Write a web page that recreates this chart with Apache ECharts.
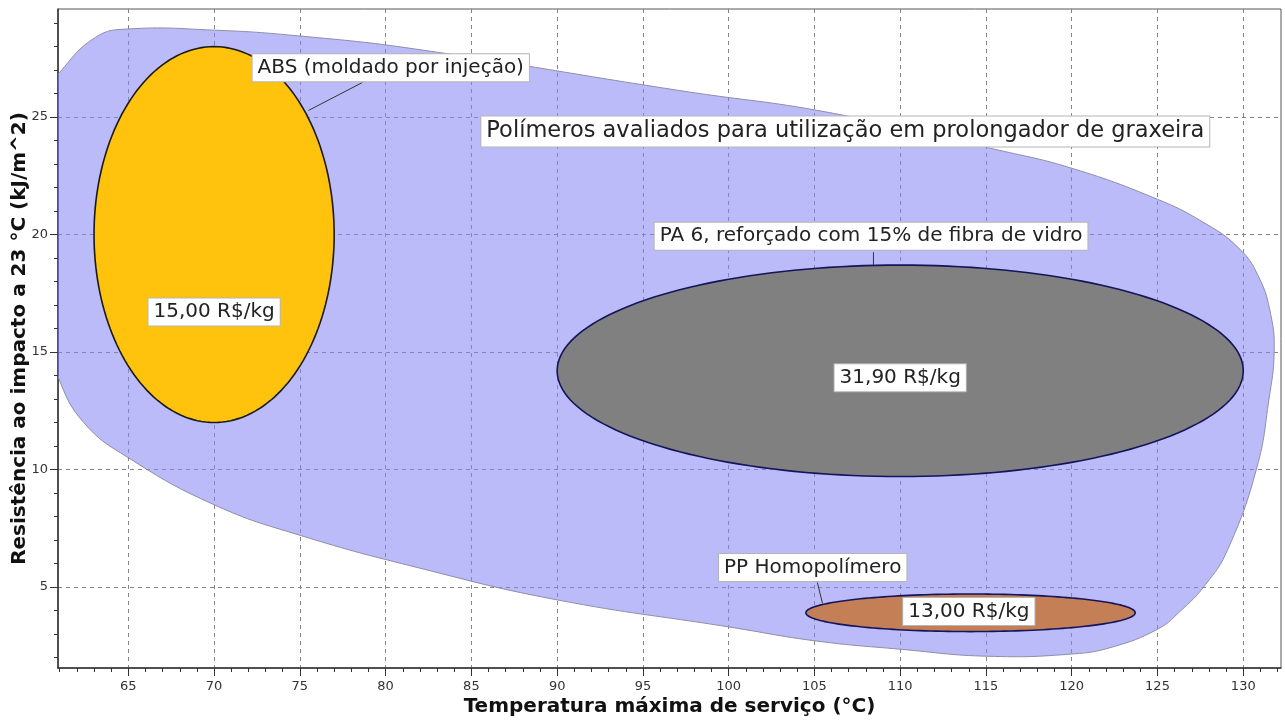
<!DOCTYPE html>
<html>
<head>
<meta charset="utf-8">
<title>Polímeros avaliados</title>
<script src="https://cdn.jsdelivr.net/npm/echarts@6/dist/echarts.min.js"></script>
<style>
  html, body { margin: 0; padding: 0; background: #ffffff; }
  #chart { width: 1285px; height: 725px; }
</style>
</head>
<body>
<div id="chart"></div>
<script>
// Tick values for both axes
const xTicks = [65, 70, 75, 80, 85, 90, 95, 100, 105, 110, 115, 120, 125, 130];
const yTicks = [5, 10, 15, 20, 25];
const xMinorTicks = [61, 62, 63, 64, 65, 66, 67, 68, 69, 70, 71, 72, 73, 74, 75, 76, 77, 78, 79, 80,
  81, 82, 83, 84, 85, 86, 87, 88, 89, 90, 91, 92, 93, 94, 95, 96, 97, 98, 99, 100,
  101, 102, 103, 104, 105, 106, 107, 108, 109, 110, 111, 112, 113, 114, 115, 116, 117, 118, 119, 120,
  121, 122, 123, 124, 125, 126, 127, 128, 129, 130, 131, 132];
const yMinorTicks = [2, 3, 4, 5, 6, 7, 8, 9, 10, 11, 12, 13, 14, 15, 16, 17, 18, 19, 20,
  21, 22, 23, 24, 25, 26, 27, 28, 29];

// Envelope around all evaluated polymers (service temperature °C, impact kJ/m^2)
const envelopeTemp = [59.9, 61.0, 63.1, 65.0, 70.0, 75.0, 81.7, 97.4, 105.8, 115.7, 120.1, 125.0,
  127.6, 129.7, 130.9, 131.6, 131.8, 131.5, 130.8, 129.1, 127.8, 126.3, 125.0, 122.4, 120.1, 115.1, 110.0,
  105.1, 100.0, 90.0, 82.0, 75.0, 70.0, 65.0, 62.4, 60.9, 60.2, 59.6];
const envelopeImpact = [25.7, 26.9, 28.4, 28.75, 28.7, 28.45, 27.9, 26.1, 25.2, 23.6, 22.8, 21.5,
  20.55, 19.45, 18.2, 16.6, 15.0, 13.0, 10.1, 6.6, 5.1, 3.95, 3.2, 2.45, 2.15, 2.05, 2.35,
  2.7, 3.3, 4.45, 5.8, 7.2, 8.5, 10.5, 12.0, 13.95, 15.9, 20.2];
const envelopeTitle = 'Polímeros avaliados para utilização em prolongador de graxeira';

// Materials and their property ranges
const materials = ['ABS (moldado por injeção)', 'PA 6, reforçado com 15% de fibra de vidro', 'PP Homopolímero'];
const tempMin = [63, 90, 104.5];
const tempMax = [77, 130, 123.7];
const impactMin = [12, 9.7, 3.1];
const impactMax = [28, 18.7, 4.7];
const prices = ['15,00 R$/kg', '31,90 R$/kg', '13,00 R$/kg'];

// Label placement (data units)
const layout = {
  title: [106.8, 24.39],
  nameAnchor: [[80.3, 27.1], [108.3, 19.93], [104.9, 5.83]],
  leaderFrom: [[78.64, 26.47], [108.44, 19.25], [105.17, 5.19]],
  leaderTo: [[75.5, 25.28], [108.44, 18.7], [105.47, 4.3]],
  priceAnchor: [[70, 16.7], [110, 13.9], [114, 3.95]]
};

const FONT = '"DejaVu Sans", Verdana, sans-serif';
const fillColors = ['#FFC30D', '#808080', '#C47F56'];
const edgeColors = ['#1a1a1a', '#14145a', '#14145a'];

function boxText(text, pos, size) {
  return {
    type: 'text',
    z2: 20,
    style: {
      text: text,
      x: pos[0], y: pos[1],
      align: 'center', verticalAlign: 'middle',
      font: size + 'px ' + FONT,
      fill: '#222',
      backgroundColor: '#ffffff',
      borderColor: '#b5b5b5', borderWidth: 1,
      padding: [4, 5, 3, 5]
    }
  };
}

const chart = echarts.init(document.getElementById('chart'), null, { renderer: 'canvas' });

const axisLabelStyle = { color: '#333', fontSize: 13, fontFamily: FONT };
const gridLine = { show: true, lineStyle: { type: [4, 4], color: '#858585', width: 1 } };
const axisNameStyle = { fontWeight: 'bold', fontSize: 20, color: '#111', fontFamily: FONT };

chart.setOption({
  animation: false,
  backgroundColor: '#ffffff',
  grid: {
    left: 58, right: 4, top: 9, bottom: 57,
    show: true, borderColor: '#555', borderWidth: 1,
    containLabel: false, outerBoundsMode: 'none'
  },
  xAxis: [{
    type: 'value', min: 60.9, max: 132.2, position: 'bottom',
    axisLine: { show: true, onZero: false, lineStyle: { color: '#333', width: 1.5 } },
    axisTick: { show: true, customValues: xTicks, length: 8, lineStyle: { color: '#333' } },
    axisLabel: { customValues: xTicks, margin: 12, ...axisLabelStyle },
    splitLine: gridLine,
    name: 'Temperatura máxima de serviço (°C)',
    nameLocation: 'middle', nameGap: 29, nameMoveOverlap: false, nameTextStyle: axisNameStyle
  }, {
    type: 'value', min: 60.9, max: 132.2, position: 'bottom',
    axisLine: { show: false },
    axisTick: { show: true, customValues: xMinorTicks, length: 4, lineStyle: { color: '#333' } },
    axisLabel: { show: false },
    splitLine: { show: false }
  }],
  yAxis: [{
    type: 'value', min: 1.55, max: 29.6, position: 'left',
    axisLine: { show: true, onZero: false, lineStyle: { color: '#333', width: 1.5 } },
    axisTick: { show: true, customValues: yTicks, length: 8, lineStyle: { color: '#333' } },
    axisLabel: { customValues: yTicks, margin: 10, ...axisLabelStyle },
    splitLine: gridLine,
    name: 'Resistência ao impacto a 23 °C (kJ/m^2)',
    nameLocation: 'middle', nameGap: 28, nameMoveOverlap: false, nameTextStyle: axisNameStyle
  }, {
    type: 'value', min: 1.55, max: 29.6, position: 'left',
    axisLine: { show: false },
    axisTick: { show: true, customValues: yMinorTicks, length: 4, lineStyle: { color: '#333' } },
    axisLabel: { show: false },
    splitLine: { show: false }
  }],
  series: [{
    // envelope of the whole selection
    type: 'custom',
    name: 'envelope',
    xAxisIndex: 0, yAxisIndex: 0,
    clip: true,
    data: [[envelopeTemp[0], envelopeImpact[0]]],
    renderItem: function (params, api) {
      const pts = envelopeTemp.map((t, k) => api.coord([t, envelopeImpact[k]]));
      return {
        type: 'polygon',
        shape: { points: pts, smooth: 0.45 },
        style: { fill: 'rgba(130,130,245,0.54)', stroke: '#8e8ea8', lineWidth: 1 }
      };
    },
    z: 2
  }, {
    // one ellipse per material
    type: 'custom',
    name: 'materials',
    xAxisIndex: 0, yAxisIndex: 0,
    clip: true,
    data: materials.map((m, i) => [tempMin[i], tempMax[i], impactMin[i], impactMax[i]]),
    renderItem: function (params, api) {
      const i = params.dataIndex;
      const a = api.coord([api.value(0), api.value(2)]);
      const b = api.coord([api.value(1), api.value(3)]);
      const cx = (a[0] + b[0]) / 2, cy = (a[1] + b[1]) / 2;
      const rx = Math.abs(b[0] - a[0]) / 2, ry = Math.abs(b[1] - a[1]) / 2;
      const pts = [];
      for (let k = 0; k < 180; k++) {
        const t = k / 180 * Math.PI * 2;
        pts.push([cx + rx * Math.cos(t), cy + ry * Math.sin(t)]);
      }
      return {
        type: 'polygon',
        shape: { points: pts },
        style: { fill: fillColors[i], stroke: edgeColors[i], lineWidth: 1.6 }
      };
    },
    z: 3
  }, {
    // names, prices, leader lines and the selection title
    type: 'custom',
    name: 'labels',
    xAxisIndex: 0, yAxisIndex: 0,
    clip: false,
    data: materials.map((m, i) => [layout.priceAnchor[i][0], layout.priceAnchor[i][1]]),
    renderItem: function (params, api) {
      const i = params.dataIndex;
      const f = api.coord(layout.leaderFrom[i]);
      const t = api.coord(layout.leaderTo[i]);
      const children = [
        { type: 'line', shape: { x1: f[0], y1: f[1], x2: t[0], y2: t[1] },
          style: { stroke: '#333', lineWidth: 1 } },
        boxText(materials[i], api.coord(layout.nameAnchor[i]), 20),
        boxText(prices[i], api.coord([api.value(0), api.value(1)]), 20)
      ];
      if (i === 0) children.push(boxText(envelopeTitle, api.coord(layout.title), 22.5));
      return { type: 'group', children: children };
    },
    z: 4
  }]
});
</script>
</body>
</html>
